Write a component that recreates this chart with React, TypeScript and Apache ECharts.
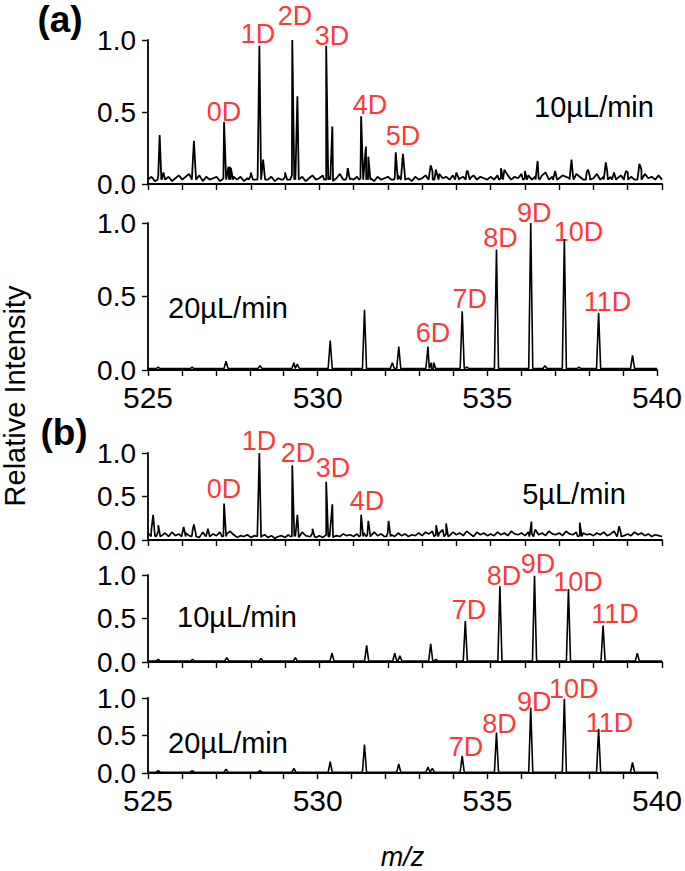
import React, { useEffect, useRef } from "react";
import * as echarts from "echarts";

// ---- Data (m/z, relative intensity) ----
const xTickLabels = ["525", "530", "535", "540"];

// baseline noise, sampled every 0.1 m/z starting at 525.0
const noiseA1 = [
  0.03,0.05,0.02,0.06,0.04,0.03,0.05,0.02,0.04,0.06,
  0.03,0.05,0.07,0.03,0.04,0.06,0.02,0.05,0.03,0.04,
  0.05,0.02,0.04,0.06,0.12,0.05,0.03,0.05,0.02,0.04,
  0.06,0.03,0.05,0.04,0.07,0.03,0.05,0.02,0.04,0.03,
  0.05,0.03,0.06,0.04,0.03,0.05,0.02,0.04,0.06,0.03,
  0.04,0.06,0.03,0.05,0.02,0.04,0.07,0.03,0.05,0.04,
  0.03,0.05,0.04,0.03,0.06,0.04,0.02,0.05,0.03,0.04,
  0.05,0.03,0.04,0.06,0.03,0.05,0.04,0.02,0.05,0.03,
  0.04,0.06,0.05,0.09,0.10,0.07,0.04,0.05,0.03,0.06,
  0.08,0.04,0.05,0.09,0.04,0.06,0.03,0.05,0.04,0.03,
  0.05,0.03,0.06,0.04,0.10,0.06,0.03,0.05,0.04,0.07,
  0.04,0.06,0.03,0.05,0.04,0.06,0.08,0.03,0.05,0.09,
  0.04,0.06,0.05,0.04,0.06,0.07,0.05,0.03,0.08,0.05,
  0.04,0.07,0.03,0.05,0.09,0.05,0.08,0.04,0.06,0.05,
  0.08,0.05,0.03,0.06,0.10,0.07,0.04,0.05,0.03,0.06,
  0.03,
];
const noiseB1 = [
  0.08,0.12,0.06,0.10,0.05,0.08,0.04,0.09,0.05,0.07,
  0.04,0.08,0.05,0.11,0.06,0.03,0.09,0.05,0.04,0.07,
  0.05,0.09,0.04,0.07,0.10,0.06,0.03,0.05,0.04,0.06,
  0.03,0.05,0.04,0.03,0.06,0.03,0.05,0.02,0.04,0.05,
  0.03,0.06,0.04,0.07,0.03,0.09,0.05,0.04,0.08,0.03,
  0.05,0.03,0.06,0.04,0.03,0.05,0.04,0.07,0.05,0.06,
  0.04,0.07,0.05,0.08,0.06,0.04,0.09,0.05,0.07,0.04,
  0.09,0.06,0.04,0.08,0.05,0.07,0.04,0.06,0.05,0.08,
  0.05,0.09,0.07,0.10,0.06,0.08,0.12,0.07,0.05,0.09,
  0.06,0.08,0.05,0.10,0.07,0.04,0.09,0.06,0.08,0.05,
  0.07,0.05,0.09,0.06,0.08,0.05,0.10,0.07,0.06,0.08,
  0.05,0.09,0.07,0.12,0.06,0.08,0.05,0.10,0.07,0.06,
  0.08,0.05,0.10,0.07,0.06,0.09,0.05,0.08,0.06,0.07,
  0.05,0.08,0.06,0.09,0.05,0.07,0.10,0.06,0.08,0.05,
  0.07,0.05,0.09,0.06,0.08,0.05,0.07,0.04,0.06,0.05,
  0.04,
];

// peaks: [m/z, intensity]
const peaksA1 = [
  [525.34,0.34],[525.45,0.08],[526.34,0.30],[527.22,0.43],[527.35,0.12],[527.42,0.11],
  [528.0,0.08],[528.25,0.96],[528.36,0.17],[529.0,0.08],[529.21,1.0],[529.36,0.61],
  [530.2,0.96],[530.38,0.4],[530.83,0.11],[531.22,0.47],[531.36,0.26],[531.43,0.19],
  [532.23,0.22],[532.44,0.21],[533.25,0.13],[533.42,0.1],[534.02,0.08],[534.33,0.09],
  [535.3,0.11],[536.0,0.09],[536.37,0.16],[536.88,0.09],[537.36,0.17],[537.84,0.1],
  [538.36,0.15],[538.6,0.08],[538.95,0.09],[539.34,0.14],
];
const peaksA2 = [
  [525.3,0.02],[526.3,0.02],[527.3,0.06],[528.3,0.03],[529.3,0.05],[529.4,0.04],
  [530.37,0.2],[531.38,0.41],[532.2,0.05],[532.39,0.16],[533.25,0.16],[533.35,0.05],
  [533.42,0.05],[534.26,0.4],[534.4,0.02],[535.27,0.82],[536.28,1.0],[536.7,0.03],
  [537.27,0.89],[537.7,0.02],[538.28,0.39],[539.28,0.1],
];
const peaksB1 = [
  [525.15,0.29],[525.3,0.17],[526.04,0.15],[526.34,0.18],[526.75,0.13],[527.22,0.42],
  [528.25,1.0],[529.21,0.86],[529.36,0.29],[529.8,0.13],[530.2,0.67],[530.38,0.41],
  [531.22,0.29],[531.43,0.22],[532.02,0.22],[533.41,0.17],[533.7,0.19],[536.19,0.21],
  [537.6,0.2],[538.75,0.16],
];
const peaksB2 = [
  [525.3,0.03],[526.3,0.03],[527.3,0.05],[528.3,0.04],[529.3,0.05],[530.37,0.1],
  [531.38,0.19],[532.2,0.1],[532.35,0.07],[533.25,0.21],[533.4,0.03],[534.26,0.47],
  [535.27,0.87],[536.28,0.99],[537.27,0.84],[538.28,0.42],[539.28,0.1],
];
const peaksB3 = [
  [525.3,0.03],[526.3,0.03],[527.3,0.05],[528.3,0.03],[529.3,0.06],[530.37,0.15],
  [531.38,0.38],[532.39,0.12],[533.25,0.08],[533.38,0.06],[534.26,0.23],[535.27,0.54],
  [536.28,0.87],[537.27,0.99],[538.28,0.59],[539.28,0.14],
];

// red peak labels: [text, m/z, intensity of label centre]
const labelsA1 = [["0D",527.22,0.5],["1D",528.21,1.04],["2D",529.29,1.17],["3D",530.37,1.03],["4D",531.48,0.55],["5D",532.44,0.33]];
const labelsA2 = [["6D",533.4,0.25],["7D",534.48,0.48],["8D",535.39,0.9],["9D",536.38,1.07],["10D",537.69,0.94],["11D",538.54,0.46]];
const labelsB1 = [["0D",527.22,0.59],["1D",528.24,1.14],["2D",529.38,1.0],["3D",530.4,0.83],["4D",531.39,0.45]];
const labelsB2 = [["7D",534.37,0.6],["8D",535.39,0.99],["9D",536.38,1.13],["10D",537.55,0.92],["11D",538.63,0.55]];
const labelsB3 = [["7D",534.37,0.35],["8D",535.36,0.65],["9D",536.38,0.95],["10D",537.55,1.12],["11D",538.6,0.67]];

const flowLabels = ["10µL/min", "20µL/min", "5µL/min", "10µL/min", "20µL/min"];

const FONT = "'Liberation Sans', Arial, Helvetica, sans-serif";

function buildSpectrum(peaks: number[][], noise: number[] | null, base: number) {
  const pts: number[][] = [];
  if (noise) noise.forEach((v, i) => pts.push([+(525 + i * 0.1).toFixed(2), v]));
  else { pts.push([525, base]); pts.push([540, base]); }
  peaks.forEach(([mz, h]) => {
    pts.push([mz - 0.06, base], [mz, h], [mz + 0.06, base]);
  });
  pts.sort((a, b) => a[0] - b[0]);
  return pts;
}

export default function App() {
  const ref = useRef<HTMLDivElement>(null);
  useEffect(() => {
    if (!ref.current) return;
    const chart = echarts.init(ref.current, null, { renderer: "svg" });
    const grids = [
      { left: 148, right: 23, top: 40, height: 144 },
      { left: 148, right: 23, top: 223, height: 147 },
      { left: 148, right: 23, top: 453, height: 87 },
      { left: 148, right: 23, top: 575, height: 87 },
      { left: 148, right: 23, top: 698, height: 86 },
    ];
    const showXLabels = [false, true, false, false, true];
    const spectra = [
      buildSpectrum(peaksA1, noiseA1, 0.03),
      buildSpectrum(peaksA2, null, 0.01),
      buildSpectrum(peaksB1, noiseB1, 0.04),
      buildSpectrum(peaksB2, null, 0.01),
      buildSpectrum(peaksB3, null, 0.01),
    ];
    const lineWidths = [1.8, 1.6, 1.7, 1.6, 1.6];
    const labelSets = [labelsA1, labelsA2, labelsB1, labelsB2, labelsB3];
    const flowPos = [[594, 107], [228, 308], [574, 494], [237, 617], [228, 743]];

    const xAxes = grids.map((_, i) => ({
      type: "value",
      gridIndex: i,
      min: 525,
      max: 540,
      interval: 1,
      axisLine: { show: true, onZero: false, lineStyle: { color: "#000", width: 1.8 } },
      axisTick: { show: true, length: 6, inside: false, lineStyle: { color: "#000", width: 1.4 } },
      splitLine: { show: false },
      axisLabel: {
        show: showXLabels[i],
        color: "#000",
        fontSize: 30,
        fontFamily: FONT,
        margin: 12,
        formatter: (v: number) => (xTickLabels.includes(String(v)) ? String(v) : ""),
      },
      ...(i === 4
        ? {
            name: "m/z",
            nameLocation: "middle",
            nameGap: 70,
            nameTextStyle: { fontSize: 27, fontStyle: "italic", fontFamily: FONT, color: "#000" },
          }
        : {}),
    }));
    const yAxes = grids.map((_, i) => ({
      type: "value",
      gridIndex: i,
      min: 0,
      max: 1,
      interval: 0.5,
      axisLine: { show: true, lineStyle: { color: "#000", width: 1.8 } },
      axisTick: { show: true, length: 6, lineStyle: { color: "#000", width: 1.4 } },
      splitLine: { show: false },
      axisLabel: {
        color: "#000",
        fontSize: 28,
        fontFamily: FONT,
        margin: 12,
        formatter: (v: number) => v.toFixed(1),
      },
    }));
    const series: any[] = [];
    spectra.forEach((d, i) => {
      series.push({
        type: "line",
        xAxisIndex: i,
        yAxisIndex: i,
        data: d,
        symbol: "none",
        lineStyle: { color: "#000", width: lineWidths[i] },
        clip: false,
        silent: true,
      });
      series.push({
        type: "scatter",
        xAxisIndex: i,
        yAxisIndex: i,
        symbolSize: 0,
        clip: false,
        silent: true,
        data: labelSets[i].map(([t, x, y]) => ({ name: t, value: [x, y] })),
        label: {
          show: true,
          position: "inside",
          formatter: "{b}",
          color: "#ff0000",
          fontSize: 27,
          fontFamily: FONT,
          align: "center",
          verticalAlign: "middle",
        },
      });
    });

    const textStyle = (text: string, size: number, weight = "normal") => ({
      text,
      fontSize: size,
      fontFamily: FONT,
      fontWeight: weight,
      fill: "#000",
      align: "center",
      verticalAlign: "middle",
      textAlign: "center",
      textVerticalAlign: "middle",
    });
    const graphic: any[] = [
      { type: "text", x: 60, y: 19, style: textStyle("(a)", 37, "bold") },
      { type: "text", x: 64, y: 432, style: textStyle("(b)", 37, "bold") },
      { type: "text", x: 15, y: 396, rotation: Math.PI / 2, style: textStyle("Relative Intensity", 29) },
    ];
    flowLabels.forEach((t, i) => {
      graphic.push({ type: "text", x: flowPos[i][0], y: flowPos[i][1], style: textStyle(t, 29) });
    });

    chart.setOption({
      animation: false,
      backgroundColor: "#fff",
      grid: grids,
      xAxis: xAxes,
      yAxis: yAxes,
      series,
      graphic,
    });
    return () => chart.dispose();
  }, []);
  return (
    <div
      ref={ref}
      style={{ position: "fixed", left: 0, top: 0, width: 685, height: 871, background: "#fff" }}
    />
  );
}
